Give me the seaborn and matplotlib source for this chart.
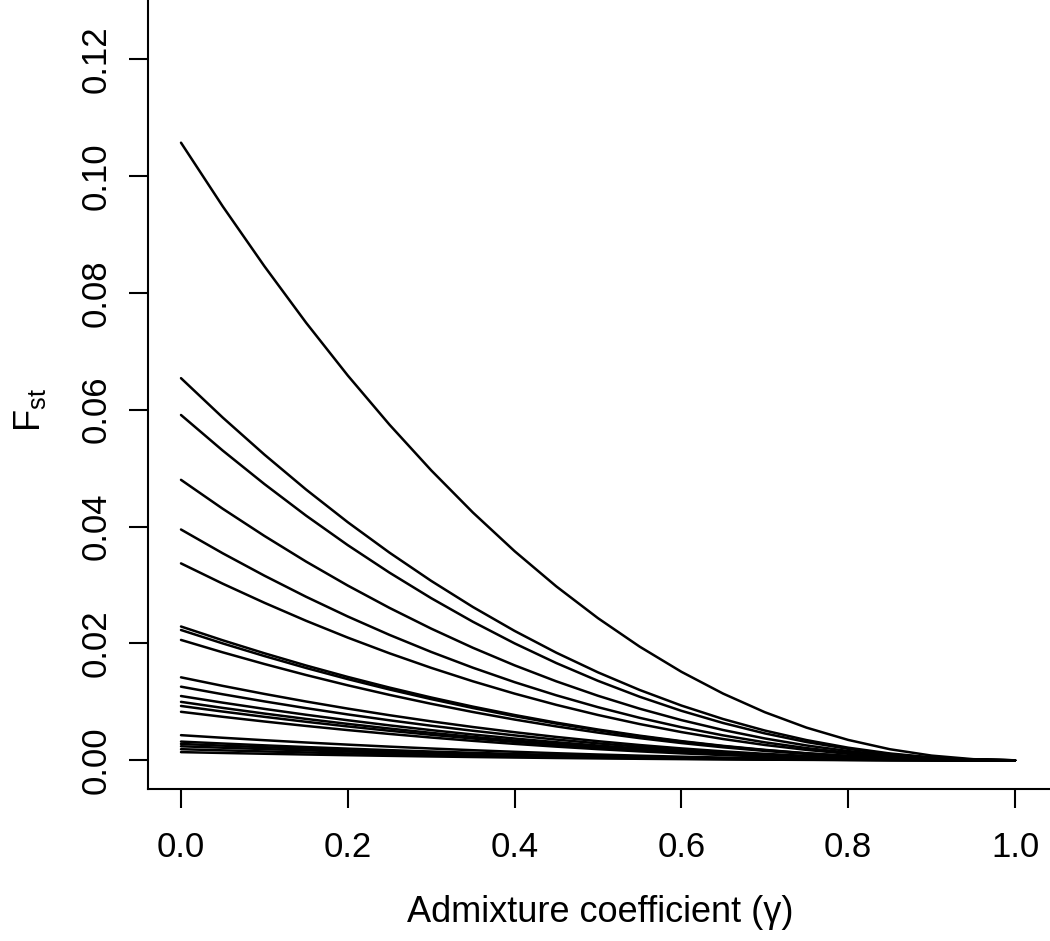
import numpy as np
import pandas as pd
import matplotlib
matplotlib.use("Agg")
import matplotlib.pyplot as plt
import seaborn as sns

# Admixture coefficient grid
gamma = [0.00, 0.05, 0.10, 0.15, 0.20, 0.25, 0.30, 0.35, 0.40, 0.45, 0.50,
         0.55, 0.60, 0.65, 0.70, 0.75, 0.80, 0.85, 0.90, 0.95, 1.00]
# Relative decay of Fst along gamma
rel_decay = [1.0000, 0.8970, 0.8000, 0.7085, 0.6230, 0.5434, 0.4695, 0.4012,
             0.3386, 0.2816, 0.2301, 0.1840, 0.1433, 0.1080, 0.0779, 0.0529,
             0.0330, 0.0179, 0.0076, 0.0018, 0.0000]
# Fst at gamma = 0 for each curve
fst_start = [0.1057, 0.0654, 0.0591, 0.0480, 0.0395, 0.0337,
             0.0229, 0.0223, 0.0206,
             0.0142, 0.0126, 0.0110, 0.0100, 0.0093, 0.0083,
             0.0043, 0.0032, 0.0028, 0.0024, 0.0019, 0.0014]

x_ticks = [0.0, 0.2, 0.4, 0.6, 0.8, 1.0]
y_ticks = [0.00, 0.02, 0.04, 0.06, 0.08, 0.10, 0.12]

rows = []
for i, f0 in enumerate(fst_start):
    for g, r in zip(gamma, rel_decay):
        rows.append({"curve": i, "gamma": g, "fst": f0 * r})
df = pd.DataFrame(rows)

sns.set_style("ticks")
plt.rcParams['font.family'] = ['Liberation Sans', 'DejaVu Sans']
plt.rcParams['mathtext.default'] = 'regular'
plt.rcParams['text.color'] = 'black'
plt.rcParams['xtick.color'] = 'black'
plt.rcParams['ytick.color'] = 'black'

W, H = 1050, 941
# pixel geometry of the plotting region (extends beyond the image top/right)
left_px, right_px, bottom_px, top_px = 147.5, 1065, 789, -25
# data-to-pixel mapping
x0_px, x1_px = 181.0, 1015.0       # gamma 0 and 1
y0_px, y10_px = 760.3, 176.0       # Fst 0.00 and 0.10
sx = (x1_px - x0_px) / 1.0
sy = (y0_px - y10_px) / 0.10

fig = plt.figure(figsize=(W / 100, H / 100), dpi=100)
ax = fig.add_axes([left_px / W, 1 - bottom_px / H,
                   (right_px - left_px) / W, (bottom_px - top_px) / H])

sns.lineplot(data=df, x="gamma", y="fst", hue="curve",
             palette=["black"] * len(fst_start), legend=False,
             estimator=None, linewidth=1.8, ax=ax)

ax.set_xlim((left_px - x0_px) / sx, (right_px - x0_px) / sx)
ax.set_ylim((y0_px - bottom_px) / sy, (y0_px - top_px) / sy)
ax.set_xticks(x_ticks)
ax.set_xticklabels([f"{v:.1f}" for v in x_ticks])
ax.set_yticks(y_ticks)
ax.set_yticklabels([f"{v:.2f}" for v in y_ticks], rotation=90, va="center")
ax.tick_params(axis="both", length=14, width=1.5, labelsize=25,
               color="black", labelcolor="black")
ax.tick_params(axis="x", pad=16)
ax.tick_params(axis="y", pad=11)
for s in ax.spines.values():
    s.set_linewidth(1.5)
    s.set_color("black")
ax.spines["top"].set_visible(False)
ax.spines["right"].set_visible(False)
ax.set_xlabel("")
ax.set_ylabel("")

fig.text(600 / W, 1 - 912 / H, "Admixture coefficient (γ)", ha="center",
         va="center", fontsize=26, color="black")
fig.text(30 / W, 1 - 410 / H, "F$_{st}$", ha="center", va="center",
         rotation=90, fontsize=26, color="black")

fig.savefig("out.png", dpi=100)
